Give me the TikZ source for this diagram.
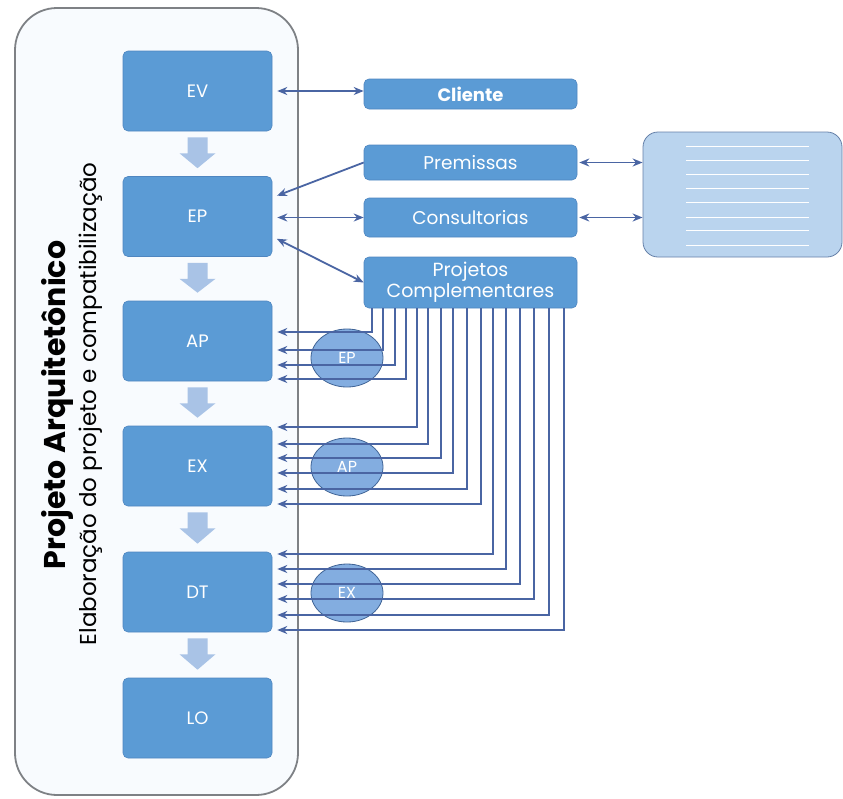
\documentclass[tikz,border=0pt]{standalone}
\usepackage{fontspec}
\setmainfont{Poppins}
\usetikzlibrary{calc,arrows.meta,shapes.geometric}
\definecolor{boxblue}{HTML}{5B9BD5}
\definecolor{boxedge}{HTML}{4F86C0}
\definecolor{linkblue}{HTML}{4A65A3}
\definecolor{flowblue}{HTML}{A9C3E6}
\definecolor{phasefill}{HTML}{6D9FDB}
\definecolor{phaseedge}{HTML}{3F6395}
\definecolor{framefill}{HTML}{F8FBFE}
\definecolor{frameedge}{HTML}{7E8185}
\definecolor{notefill}{HTML}{BAD4EE}
\definecolor{noteedge}{HTML}{6580A8}
\begin{document}
\begin{tikzpicture}[x=1pt,y=-1pt,
  container/.style={draw=frameedge, line width=1.8pt, fill=framefill, rounded corners=42pt,
    minimum width=283pt, minimum height=787pt, inner sep=0pt},
  stage/.style={rectangle, rounded corners=5pt, fill=boxblue, draw=boxedge, line width=0.6pt,
    minimum width=149pt, minimum height=80pt, inner sep=0pt, text=white,
    font=\fontsize{18}{20}\selectfont},
  side/.style={rectangle, rounded corners=5pt, fill=boxblue, draw=boxedge, line width=0.6pt,
    minimum width=213pt, inner sep=0pt, text=white, align=center,
    font=\fontsize{18.5}{20}\selectfont},
  phase/.style={ellipse, draw=phaseedge, line width=0.8pt, fill=phasefill, fill opacity=0.85,
    text opacity=1, minimum width=72pt, minimum height=58pt, inner sep=0pt, text=white,
    font=\fontsize{16}{18}\selectfont},
  note/.style={rectangle, rounded corners=15pt, draw=noteedge, line width=0.8pt, fill=notefill,
    minimum width=199pt, minimum height=125pt, inner sep=0pt},
  conn/.style={draw=linkblue, line width=1.8pt, -{Stealth[length=10pt,width=8pt]}},
  both/.style={conn, {Stealth[length=10pt,width=8pt]}-{Stealth[length=10pt,width=8pt]}},
  flow/.style={fill=flowblue}
]
\useasboundingbox (0,0) rectangle (843,798);

% outer frame of the architectural project
\node[container] (frame) at (156.5,401.5) {};
\node[rotate=90, font=\bfseries\fontsize{30}{32}\selectfont] (title) at (57,405) {Projeto Arquitetônico};
\node[rotate=90, font=\fontsize{23}{25}\selectfont] (subtitle) at (91,404) {Elaboração do projeto e compatibilização};

% project stages
\node[stage] (EV) at (197.5,91) {EV};
\node[stage] (EP) at (197.5,216.5) {EP};
\node[stage] (AP) at (197.5,341) {AP};
\node[stage] (EX) at (197.5,466) {EX};
\node[stage] (DT) at (197.5,592) {DT};
\node[stage] (LO) at (197.5,718) {LO};

% block arrows between stages
\foreach \a/\b in {EV/EP, EP/AP, AP/EX, EX/DT, DT/LO}
  \fill[flow] ($(\a.south)+(-10,6)$) -- ($(\a.south)+(10,6)$) -- ($(\a.south)+(10,22)$)
    -- ($(\a.south)+(18,22)$) -- ($(\b.north)+(0,-8)$) -- ($(\a.south)+(-18,22)$)
    -- ($(\a.south)+(-10,22)$) -- cycle;

% external inputs
\node[side, minimum height=30pt, font=\bfseries\fontsize{18}{20}\selectfont] (cli) at (470.5,94) {Cliente};
\node[side, minimum height=35pt] (prem) at (470.5,162.5) {Premissas};
\node[side, minimum height=39pt] (cons) at (470.5,217.5) {Consultorias};
\node[side, minimum height=51pt, font=\fontsize{19}{21}\selectfont] (PC) at (470.5,282.5) {Projetos\\Complementares};

% reference document
\node[note] (doc) at (742.5,194.5) {};
\foreach \yy in {146,160,174,188,202,217,230,245}
  \draw[white, line width=1pt] (686,\yy) -- (809,\yy);

% links to the stages
\draw[both, shorten <=5pt] (EV.east) -- (cli.west |- EV.east);
\draw[conn, shorten >=5pt] (prem.west) -- ($(EP.east)+(0,-19)$);
\draw[both, shorten <=5pt] (EP.east |- cons.west) -- (cons.west);
\draw[both, shorten <=5pt] ($(EP.east)+(0,20)$) -- (PC.west);
\draw[both, shorten <=2pt] (prem.east) -- (doc.west |- prem.east);
\draw[both, shorten <=2pt] (cons.east) -- (doc.west |- cons.east);

% phases of the complementary projects
\node[phase] (pEP) at (347,358) {EP};
\node[phase] (pAP) at (347,467) {AP};
\node[phase] (pEX) at (347,593) {EX};

% feedback lines from the complementary projects
\foreach \x/\y in {372/332, 383/350, 395/365, 406/379}
  \draw[conn, shorten >=5pt] (PC.south -| \x,0) |- (AP.east |- 0,\y);
\foreach \x/\y in {417/427, 428/444, 441/458, 453/473, 467/489, 481/504}
  \draw[conn, shorten >=5pt] (PC.south -| \x,0) |- (EX.east |- 0,\y);
\foreach \x/\y in {493/554, 506/569, 520/584, 534/599, 549/615, 564/630}
  \draw[conn, shorten >=5pt] (PC.south -| \x,0) |- (DT.east |- 0,\y);
\end{tikzpicture}
\end{document}
